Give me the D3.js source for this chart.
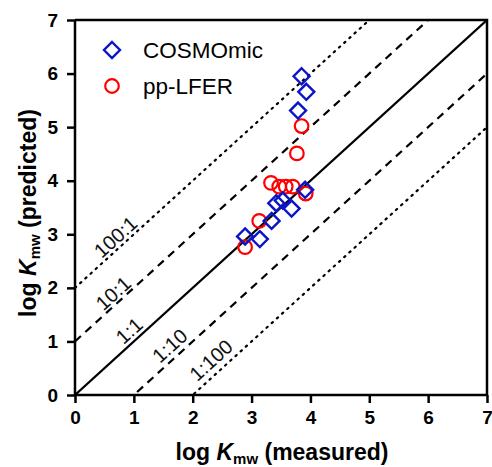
<!DOCTYPE html>
<html><head><meta charset="utf-8">
<script src="https://cdn.jsdelivr.net/npm/d3@7"></script>
<style>body{margin:0;background:#fff}svg{display:block}text{font-family:"Liberation Sans",Arial,sans-serif}</style>
</head><body>
<script>
const ticks = [0,1,2,3,4,5,6,7];
const cosmoX = [3.85,3.93,3.79,3.91,3.42,3.53,3.68,3.34,2.89,3.14];
const cosmoY = [5.95,5.66,5.31,3.83,3.58,3.63,3.48,3.25,2.96,2.91];
const lferX = [3.85,3.77,3.33,3.47,3.58,3.70,3.92,3.13,2.89];
const lferY = [5.02,4.51,3.96,3.89,3.89,3.89,3.76,3.25,2.76];
const refOffsets = [2,1,0,-1,-2];
const refLabels = ["100:1","10:1","1:1","1:10","1:100"];
const refLabelX = [0.69,0.65,0.92,1.61,2.31];
const refLabelY = [2.95,1.90,1.20,0.92,0.65];
const legendNames = ["COSMOmic","pp-LFER"];

const W=492,H=467;
const svg=d3.select("body").append("svg").attr("width",W).attr("height",H);
const x=d3.scaleLinear().domain([0,7]).range([75,487]);
const y=d3.scaleLinear().domain([0,7]).range([395,20]);

svg.append("clipPath").attr("id","clip").append("rect")
  .attr("x",x(0)).attr("y",y(7)).attr("width",x(7)-x(0)).attr("height",y(0)-y(7));

const g=svg.append("g").attr("clip-path","url(#clip)");
const dash={2:"1.5,5.5",1:"8,6",0:null,"-1":"8,6","-2":"1.5,5.5"};
refOffsets.forEach(o=>{
  g.append("line").attr("x1",x(0)).attr("y1",y(o)).attr("x2",x(7)).attr("y2",y(7+o))
   .attr("stroke","#000").attr("stroke-width",2.2)
   .attr("stroke-dasharray",dash[o]).attr("stroke-linecap",o===2||o===-2?"round":"butt");
});
const ang=-Math.atan((y(0)-y(1))/(x(1)-x(0)))*180/Math.PI;
refLabels.forEach((t,i)=>{
  svg.append("text").attr("transform",`translate(${x(refLabelX[i])},${y(refLabelY[i])}) rotate(${ang})`)
    .attr("text-anchor","middle").attr("dy","0.35em").attr("font-size",20).attr("fill","#111").text(t);
});

// axes
const xa=svg.append("g").attr("transform",`translate(0,${y(0)})`)
  .call(d3.axisBottom(x).tickValues(ticks).tickSize(8).tickPadding(8).tickFormat(d3.format("d")));
const ya=svg.append("g").attr("transform",`translate(${x(0)},0)`)
  .call(d3.axisLeft(y).tickValues(ticks).tickSize(8).tickPadding(9).tickFormat(d3.format("d")));
[xa,ya].forEach(a=>{
  a.select(".domain").attr("stroke-width",2.5);
  a.selectAll(".tick line").attr("stroke-width",2.5);
  a.selectAll(".tick text").attr("font-size",19).attr("font-weight","bold").attr("fill","#000").style("font-family","Liberation Sans, Arial");
});
xa.select(".domain").attr("d",`M${x(0)},0H${x(7)}`);
ya.select(".domain").attr("d",`M0,${y(0)}V${y(7)}`);
svg.append("path").attr("d",`M${x(0)},${y(7)}H${x(7)}V${y(0)}`).attr("fill","none").attr("stroke","#000").attr("stroke-width",2.5);

// points
const diamond=(cx,cy,r)=>`M${cx},${cy-r}L${cx+r},${cy}L${cx},${cy+r}L${cx-r},${cy}Z`;
const pts=svg.append("g");
lferX.forEach((v,i)=>pts.append("circle").attr("cx",x(v)).attr("cy",y(lferY[i])).attr("r",6.8)
  .attr("fill","none").attr("stroke","#f00").attr("stroke-width",2.2));
cosmoX.forEach((v,i)=>pts.append("path").attr("d",diamond(x(v),y(cosmoY[i]),8))
  .attr("fill","none").attr("stroke","#0a14c8").attr("stroke-width",2.4));

// legend
svg.append("path").attr("d",diamond(112,50,8)).attr("fill","none").attr("stroke","#0a14c8").attr("stroke-width",2.4);
svg.append("circle").attr("cx",112).attr("cy",86).attr("r",6.8).attr("fill","none").attr("stroke","#f00").attr("stroke-width",2.2);
svg.append("text").attr("x",143).attr("y",58).attr("font-size",22.5).text(legendNames[0]);
svg.append("text").attr("x",143).attr("y",94).attr("font-size",22.5).text(legendNames[1]);

// axis titles
function title(t,label){
  t.attr("font-size",23).attr("font-weight","bold").attr("text-anchor","middle");
  t.append("tspan").text("log ");
  t.append("tspan").attr("font-style","italic").text("K");
  t.append("tspan").attr("font-size",15).attr("dy",4).text("mw");
  t.append("tspan").attr("dy",-4).text(" "+label);
}
title(svg.append("text").attr("x",282).attr("y",460),"(measured)");
title(svg.append("text").attr("transform","translate(36,213) rotate(-90)"),"(predicted)");
</script>
</body></html>
